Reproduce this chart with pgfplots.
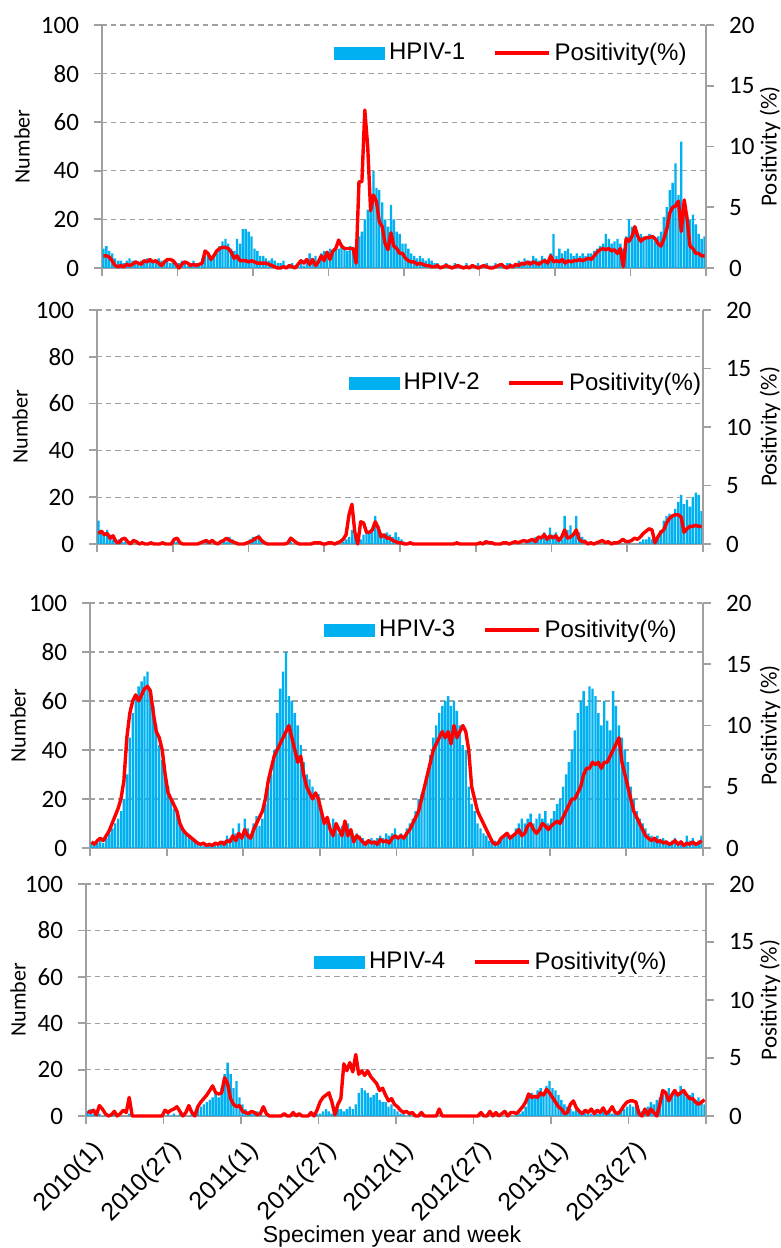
\documentclass[border=0pt]{standalone}
\usepackage{fontspec}
\setmainfont{Liberation Sans}
\newfontfamily\calibri{Carlito}
\usepackage{pgfplots}
\usepackage{pgfplotstable}
\pgfplotsset{compat=1.18}

\definecolor{hpivblue}{RGB}{0,176,240}
\definecolor{axisgray}{RGB}{160,160,160}
\definecolor{gridgray}{RGB}{160,160,160}

% weekly counts (b) and positivity in % (p), 2010 week 1 .. 2013 week 52
\pgfplotstableread[row sep=\\]{
v\\
8\\9\\7\\6\\4\\3\\3\\2\\3\\4\\3\\3\\2\\
3\\2\\4\\3\\2\\3\\4\\3\\2\\3\\2\\3\\2\\
2\\3\\2\\1\\2\\3\\2\\2\\4\\5\\6\\4\\5\\
6\\9\\11\\12\\10\\8\\7\\12\\10\\16\\16\\15\\13\\
8\\7\\5\\5\\4\\3\\4\\3\\2\\2\\3\\1\\1\\
2\\1\\1\\2\\1\\3\\6\\4\\5\\3\\6\\7\\5\\
8\\7\\9\\8\\9\\8\\7\\9\\8\\10\\13\\15\\20\\
24\\30\\40\\33\\32\\27\\20\\17\\26\\20\\15\\14\\10\\
10\\8\\6\\5\\4\\5\\4\\3\\4\\3\\2\\2\\1\\
1\\2\\1\\1\\2\\1\\1\\1\\2\\1\\1\\1\\2\\
1\\1\\2\\1\\1\\2\\1\\2\\1\\2\\2\\1\\2\\
3\\2\\4\\3\\3\\5\\4\\3\\5\\4\\3\\6\\14\\
5\\8\\6\\7\\8\\6\\5\\6\\5\\6\\5\\6\\6\\
7\\8\\9\\10\\14\\12\\10\\11\\12\\10\\8\\13\\20\\
17\\15\\12\\14\\13\\12\\14\\12\\11\\13\\15\\21\\25\\
32\\35\\43\\30\\52\\28\\22\\20\\22\\18\\14\\12\\13\\
}\bOne
\pgfplotstableread[row sep=\\]{
v\\
1.0\\1.0\\0.9\\0.6\\0.2\\0.1\\0.2\\0.1\\0.3\\0.2\\0.3\\0.5\\0.4\\
0.3\\0.6\\0.5\\0.7\\0.5\\0.6\\0.4\\0.2\\0.5\\0.7\\0.7\\0.6\\0.3\\
0.0\\0.3\\0.5\\0.4\\0.2\\0.3\\0.2\\0.3\\0.4\\1.4\\1.2\\0.7\\1.0\\
1.4\\1.6\\1.7\\1.7\\1.6\\1.3\\0.8\\1.0\\0.6\\0.6\\0.6\\0.5\\0.6\\
0.5\\0.4\\0.4\\0.4\\0.4\\0.3\\0.2\\0.1\\0.0\\0.0\\0.1\\0.0\\0.2\\
0.1\\0.0\\0.3\\0.6\\0.4\\0.7\\0.3\\0.7\\0.2\\0.5\\1.0\\0.6\\1.3\\
0.7\\1.4\\1.6\\2.3\\1.8\\1.6\\1.6\\1.6\\1.6\\0.4\\7.1\\7.1\\13.0\\
10.0\\4.7\\6.0\\5.5\\3.8\\3.4\\2.0\\1.5\\2.9\\1.8\\1.6\\1.2\\1.2\\
0.8\\0.6\\0.5\\0.5\\0.3\\0.4\\0.3\\0.2\\0.2\\0.1\\0.1\\0.2\\0.0\\
0.1\\0.2\\0.1\\0.0\\0.1\\0.2\\0.1\\0.0\\0.1\\0.0\\0.2\\0.1\\0.0\\
0.1\\0.2\\0.1\\0.0\\0.0\\0.1\\0.2\\0.3\\0.1\\0.0\\0.2\\0.1\\0.3\\
0.2\\0.4\\0.3\\0.5\\0.3\\0.5\\0.4\\0.3\\0.5\\0.6\\0.4\\1.0\\0.5\\
0.6\\0.5\\0.7\\0.4\\0.6\\0.5\\0.6\\0.6\\0.7\\0.6\\0.7\\0.8\\0.7\\
1.0\\1.3\\1.5\\1.6\\1.5\\1.6\\1.4\\1.5\\1.2\\1.6\\0.1\\2.4\\2.2\\
2.6\\3.4\\2.6\\2.2\\2.4\\2.5\\2.5\\2.6\\2.4\\2.0\\1.8\\2.4\\3.2\\
4.5\\5.0\\5.1\\5.5\\3.0\\5.6\\4.0\\1.8\\1.6\\1.2\\1.2\\1.0\\1.0\\
}\pOne
\pgfplotstableread[row sep=\\]{
v\\
10\\6\\5\\6\\4\\2\\1\\2\\1\\1\\0\\1\\0\\
0\\0\\1\\0\\0\\0\\0\\0\\0\\0\\0\\0\\0\\
1\\1\\0\\0\\0\\0\\0\\0\\0\\0\\0\\1\\0\\
0\\1\\0\\0\\1\\1\\3\\2\\1\\0\\0\\0\\1\\
2\\3\\2\\4\\2\\1\\0\\0\\0\\0\\0\\0\\0\\
0\\1\\0\\0\\0\\0\\0\\0\\0\\0\\0\\0\\0\\
0\\0\\0\\0\\0\\0\\1\\2\\3\\6\\4\\1\\2\\
4\\6\\5\\6\\12\\8\\5\\3\\5\\4\\3\\5\\3\\
2\\1\\0\\0\\0\\0\\0\\0\\0\\0\\0\\0\\0\\
0\\0\\0\\0\\0\\0\\0\\0\\0\\0\\0\\0\\0\\
0\\0\\0\\0\\0\\0\\0\\0\\0\\0\\0\\0\\0\\
0\\1\\0\\0\\1\\2\\2\\3\\2\\3\\5\\3\\7\\
4\\5\\3\\2\\12\\6\\8\\4\\12\\5\\3\\2\\1\\
1\\0\\0\\1\\0\\0\\1\\0\\0\\0\\0\\0\\0\\
1\\0\\0\\0\\1\\2\\2\\3\\2\\1\\3\\6\\10\\
12\\13\\12\\15\\18\\21\\17\\19\\16\\20\\22\\21\\14\\
}\bTwo
\pgfplotstableread[row sep=\\]{
v\\
0.9\\1.1\\0.8\\0.9\\0.5\\0.7\\0.2\\0.1\\0.4\\0.5\\0.2\\0.0\\0.3\\
0.2\\0.0\\0.1\\0.0\\0.0\\0.1\\0.0\\0.0\\0.0\\0.1\\0.0\\0.0\\0.0\\
0.4\\0.5\\0.1\\0.0\\0.0\\0.0\\0.0\\0.0\\0.0\\0.1\\0.2\\0.3\\0.1\\
0.3\\0.1\\0.0\\0.2\\0.3\\0.5\\0.3\\0.2\\0.1\\0.0\\0.0\\0.0\\0.1\\
0.2\\0.3\\0.5\\0.6\\0.3\\0.1\\0.0\\0.0\\0.0\\0.0\\0.0\\0.0\\0.0\\
0.1\\0.5\\0.3\\0.1\\0.0\\0.0\\0.0\\0.0\\0.0\\0.1\\0.1\\0.1\\0.0\\
0.0\\0.1\\0.1\\0.0\\0.1\\0.2\\0.4\\0.8\\2.5\\3.4\\1.0\\0.0\\1.9\\
1.8\\1.0\\1.0\\1.2\\1.9\\1.4\\0.6\\0.8\\0.5\\0.5\\0.3\\0.2\\0.1\\
0.1\\0.0\\0.0\\0.1\\0.0\\0.0\\0.0\\0.0\\0.0\\0.0\\0.0\\0.0\\0.0\\
0.0\\0.0\\0.0\\0.0\\0.0\\0.0\\0.1\\0.0\\0.0\\0.0\\0.0\\0.0\\0.0\\
0.0\\0.1\\0.0\\0.2\\0.1\\0.1\\0.0\\0.0\\0.0\\0.1\\0.1\\0.0\\0.1\\
0.2\\0.1\\0.2\\0.3\\0.2\\0.3\\0.4\\0.2\\0.6\\0.5\\0.8\\0.4\\0.7\\
0.5\\0.7\\0.3\\0.6\\1.2\\0.5\\0.6\\0.8\\1.2\\0.4\\0.2\\0.2\\0.0\\
0.1\\0.0\\0.1\\0.2\\0.3\\0.1\\0.2\\0.0\\0.1\\0.1\\0.2\\0.4\\0.2\\
0.2\\0.3\\0.5\\0.4\\0.6\\0.9\\1.1\\1.3\\1.2\\0.1\\0.6\\1.0\\1.2\\
1.8\\2.2\\2.4\\2.5\\2.5\\2.3\\1.0\\1.3\\1.5\\1.5\\1.6\\1.5\\1.5\\
}\pTwo
\pgfplotstableread[row sep=\\]{
v\\
2\\1\\2\\3\\2\\4\\6\\8\\10\\12\\15\\20\\30\\
45\\55\\62\\66\\68\\70\\72\\65\\58\\50\\42\\36\\30\\
25\\20\\16\\14\\10\\8\\6\\5\\4\\3\\2\\2\\1\\
1\\2\\1\\2\\1\\2\\3\\5\\4\\8\\6\\10\\5\\
12\\8\\6\\10\\13\\9\\12\\18\\25\\30\\40\\55\\65\\
72\\80\\62\\60\\55\\50\\42\\35\\30\\28\\25\\20\\22\\
15\\12\\10\\8\\12\\10\\6\\9\\8\\10\\5\\4\\6\\
5\\4\\3\\3\\4\\3\\4\\5\\4\\6\\5\\6\\8\\
5\\6\\4\\8\\10\\12\\15\\20\\22\\25\\30\\38\\45\\
50\\55\\58\\60\\62\\58\\60\\56\\50\\42\\40\\25\\18\\
15\\10\\8\\6\\5\\3\\2\\3\\2\\4\\5\\6\\4\\
5\\8\\10\\12\\10\\12\\14\\10\\12\\14\\12\\15\\10\\
12\\15\\18\\20\\25\\30\\35\\40\\48\\55\\60\\64\\58\\
66\\65\\62\\55\\50\\60\\52\\48\\64\\58\\50\\45\\40\\
35\\25\\20\\15\\12\\10\\8\\6\\5\\4\\5\\3\\4\\
3\\2\\3\\4\\2\\3\\2\\5\\3\\4\\2\\3\\5\\
}\bThree
\pgfplotstableread[row sep=\\]{
v\\
0.5\\0.3\\0.6\\0.8\\0.6\\1.0\\1.4\\2.0\\2.6\\3.2\\4.0\\5.5\\9.0\\
11.0\\12.0\\12.5\\12.0\\12.5\\13.0\\13.2\\12.8\\11.0\\9.5\\9.0\\8.0\\6.0\\
4.5\\4.0\\3.5\\3.0\\2.0\\1.5\\1.2\\1.0\\0.8\\0.6\\0.4\\0.3\\0.4\\
0.2\\0.3\\0.2\\0.4\\0.3\\0.5\\0.3\\0.6\\0.5\\1.0\\0.6\\1.2\\0.8\\
1.5\\1.0\\0.8\\1.5\\2.0\\2.5\\3.0\\4.0\\5.5\\6.5\\7.5\\8.0\\8.5\\
9.0\\9.5\\10.0\\9.0\\8.0\\7.0\\7.5\\6.0\\5.0\\4.5\\4.0\\4.5\\4.0\\
3.0\\2.0\\2.5\\1.5\\1.0\\2.0\\1.5\\1.0\\2.2\\1.0\\1.5\\0.5\\1.0\\
0.8\\0.5\\0.3\\0.6\\0.4\\0.5\\0.3\\0.7\\0.5\\0.6\\0.4\\0.8\\1.0\\
0.8\\1.0\\0.8\\1.2\\1.5\\2.0\\2.5\\3.0\\4.0\\5.0\\6.0\\7.0\\8.0\\
8.5\\9.0\\9.5\\9.0\\9.5\\8.5\\10.0\\9.0\\9.5\\10.0\\9.5\\8.0\\5.0\\
4.0\\3.0\\2.5\\2.0\\1.5\\1.0\\0.5\\0.3\\0.4\\0.8\\1.0\\1.2\\0.8\\
1.0\\1.2\\1.5\\1.0\\1.2\\1.8\\2.0\\1.5\\1.2\\1.5\\2.0\\1.8\\1.5\\
1.8\\2.0\\2.2\\2.0\\2.5\\3.0\\3.5\\4.0\\4.0\\4.5\\5.0\\6.0\\6.5\\
6.5\\7.0\\6.8\\7.0\\6.5\\7.0\\7.0\\7.5\\8.0\\8.5\\9.0\\7.0\\6.0\\
5.0\\4.0\\3.0\\2.5\\2.0\\1.5\\1.0\\0.8\\0.6\\0.8\\0.5\\0.6\\0.4\\
0.5\\0.3\\0.4\\0.6\\0.3\\0.5\\0.2\\0.4\\0.3\\0.5\\0.3\\0.4\\0.6\\
}\pThree
\pgfplotstableread[row sep=\\]{
v\\
2\\3\\1\\2\\1\\0\\1\\0\\0\\1\\0\\0\\0\\
0\\1\\0\\0\\0\\0\\0\\0\\0\\0\\0\\0\\0\\
0\\1\\0\\1\\0\\1\\1\\0\\0\\1\\2\\3\\4\\
5\\6\\7\\8\\10\\8\\12\\18\\23\\18\\12\\15\\8\\
5\\3\\2\\1\\1\\2\\1\\0\\0\\0\\0\\0\\0\\
0\\0\\0\\0\\0\\0\\0\\0\\0\\0\\0\\0\\1\\
1\\2\\3\\2\\1\\2\\3\\3\\2\\3\\4\\3\\5\\
10\\12\\11\\10\\8\\9\\10\\7\\6\\6\\4\\5\\3\\
2\\1\\1\\0\\1\\0\\0\\0\\0\\0\\0\\0\\0\\
0\\0\\0\\0\\0\\0\\0\\0\\0\\0\\0\\0\\0\\
0\\0\\0\\0\\0\\0\\0\\0\\0\\0\\0\\1\\0\\
0\\1\\1\\2\\4\\8\\10\\9\\11\\12\\10\\13\\15\\
12\\11\\9\\7\\5\\4\\3\\2\\3\\2\\1\\2\\1\\
1\\2\\1\\1\\2\\1\\2\\1\\1\\2\\2\\3\\4\\
5\\4\\6\\3\\2\\3\\4\\6\\5\\7\\8\\9\\10\\
12\\9\\11\\10\\13\\11\\8\\9\\10\\7\\8\\6\\5\\
}\bFour
\pgfplotstableread[row sep=\\]{
v\\
0.4\\0.3\\0.5\\0.1\\0.9\\0.6\\0.2\\0.0\\0.1\\0.4\\0.0\\0.2\\0.5\\
0.3\\1.6\\0.0\\0.0\\0.0\\0.0\\0.0\\0.0\\0.0\\0.0\\0.0\\0.0\\0.0\\
0.5\\0.3\\0.5\\0.6\\0.8\\0.4\\0.0\\0.3\\0.9\\0.3\\0.0\\0.8\\1.2\\
1.5\\1.8\\2.2\\2.6\\2.0\\1.9\\2.0\\3.3\\2.8\\1.5\\1.0\\0.8\\0.9\\
0.4\\0.3\\0.2\\0.4\\0.3\\0.1\\0.2\\0.8\\0.2\\0.0\\0.0\\0.0\\0.0\\
0.0\\0.2\\0.0\\0.0\\0.3\\0.0\\0.2\\0.0\\0.0\\0.0\\0.3\\0.0\\0.5\\
1.2\\1.6\\1.8\\2.0\\1.2\\0.1\\1.0\\1.5\\4.5\\3.9\\4.6\\3.8\\5.3\\
3.6\\3.9\\3.5\\3.9\\3.4\\3.1\\2.8\\2.2\\2.4\\1.8\\1.3\\1.5\\1.0\\
0.8\\0.5\\0.3\\0.4\\0.2\\0.3\\0.0\\0.0\\0.3\\0.0\\0.0\\0.0\\0.0\\
0.0\\0.6\\0.0\\0.0\\0.0\\0.0\\0.0\\0.0\\0.0\\0.0\\0.0\\0.0\\0.0\\
0.0\\0.0\\0.3\\0.0\\0.0\\0.4\\0.0\\0.3\\0.0\\0.2\\0.4\\0.0\\0.3\\
0.3\\0.2\\0.5\\0.8\\1.2\\1.9\\1.6\\1.7\\1.6\\2.0\\1.8\\2.3\\2.0\\
1.6\\1.2\\0.8\\0.6\\0.2\\0.3\\1.0\\1.3\\0.7\\0.4\\0.2\\0.5\\0.3\\
0.6\\0.2\\0.5\\0.3\\0.7\\0.2\\0.4\\0.8\\0.3\\0.2\\0.5\\0.9\\1.2\\
1.3\\1.3\\1.2\\0.2\\0.0\\0.6\\0.1\\0.6\\0.3\\0.0\\1.0\\2.2\\2.0\\
1.3\\1.8\\2.2\\1.8\\2.0\\2.2\\1.8\\1.5\\1.5\\1.2\\1.0\\1.2\\1.4\\
}\pFour

\pgfplotsset{
  panel/.style={scale only axis, anchor=south west, xmin=0.5, xmax=208.5,
    /pgf/number format/assume math mode=true,
    tick align=outside, major tick length=4pt,
    axis line style={axisgray, line width=0.9pt},
    tick style={axisgray, line width=0.9pt},
  },
  numax/.style={panel, ymin=0, ymax=100, ytick={0,20,40,60,80,100},
    axis lines*=left,
    xtick={0.5,26.5,52.5,78.5,104.5,130.5,156.5,182.5,208.5},
    xticklabels={},
    ymajorgrids,
    grid style={gridgray, line width=0.6pt, dash pattern=on 2.6pt off 2pt},
    yticklabel style={font=\calibri\fontsize{12.5}{13}\selectfont, xshift=-4pt},
    ylabel={Number},
    % the label is rotated, so yshift moves it sideways
    ylabel style={font=\calibri\fontsize{11}{12}\selectfont,
      at={(axis description cs:0,0.5)}, anchor=center},
  },
  posax/.style={panel, ymin=0, ymax=20, ytick={0,5,10,15,20},
    axis y line*=right, axis x line=none, clip=false,
    yticklabel style={font=\calibri\fontsize{12.5}{13}\selectfont, xshift=4pt},
    ylabel={Positivity (\%)},
    ylabel style={font=\calibri\fontsize{11.5}{12}\selectfont,
      at={(axis description cs:1,0.5)}, anchor=center},
    legend columns=2,
    legend style={draw=none, fill=none, anchor=west,
      font=\fontsize{12}{13}\selectfont,
      /tikz/every even column/.append style={column sep=12pt}},
  },
  barplot/.style={ybar, bar width=0.8, fill=hpivblue, draw=none},
  posline/.style={red, line width=1.7pt, line join=round,
    legend image code/.code={\draw[red, line width=1.7pt] (0pt,0pt) -- (27pt,0pt);}},
  barlegend/.style={legend image code/.code={\fill[hpivblue] (0pt,-3pt) rectangle (25pt,3pt);}},
}

\begin{document}
\begin{tikzpicture}
\useasboundingbox (0,0) rectangle (390.5pt,624pt);

% HPIV-1
\begin{axis}[numax, at={(51pt,490pt)}, width=302pt, height=121.5pt,
    ylabel style={yshift=40pt}]
  \addplot[barplot] table[x expr=\coordindex+1, y=v] {\bOne};
\end{axis}
\begin{axis}[posax, at={(51pt,490pt)}, width=302pt, height=121.5pt,
    ylabel style={yshift=-32pt},
    legend style={at={(axis description cs:0.374,0.885)}}]
  \addlegendimage{barlegend}
  \addlegendentry{HPIV-1}
  \addplot[posline] table[x expr=\coordindex+1, y=v] {\pOne};
  \addlegendentry{Positivity(\%)}
\end{axis}

% HPIV-2
\begin{axis}[numax, at={(48.5pt,352pt)}, width=303pt, height=117pt,
    ylabel style={yshift=38.5pt}]
  \addplot[barplot] table[x expr=\coordindex+1, y=v] {\bTwo};
\end{axis}
\begin{axis}[posax, at={(48.5pt,352pt)}, width=303pt, height=117pt,
    ylabel style={yshift=-33.5pt},
    legend style={at={(axis description cs:0.405,0.688)}}]
  \addlegendimage{barlegend}
  \addlegendentry{HPIV-2}
  \addplot[posline] table[x expr=\coordindex+1, y=v] {\pTwo};
  \addlegendentry{Positivity(\%)}
\end{axis}

% HPIV-3
\begin{axis}[numax, at={(45pt,200pt)}, width=306.5pt, height=122.5pt,
    ylabel style={yshift=36pt}]
  \addplot[barplot] table[x expr=\coordindex+1, y=v] {\bThree};
\end{axis}
\begin{axis}[posax, at={(45pt,200pt)}, width=306.5pt, height=122.5pt,
    ylabel style={yshift=-33.5pt},
    legend style={at={(axis description cs:0.372,0.890)}}]
  \addlegendimage{barlegend}
  \addlegendentry{HPIV-3}
  \addplot[posline] table[x expr=\coordindex+1, y=v] {\pThree};
  \addlegendentry{Positivity(\%)}
\end{axis}

% HPIV-4
\begin{axis}[numax, at={(43pt,66pt)}, width=310pt, height=116pt,
    ylabel style={yshift=34pt},
    xticklabels={2010(1),2010(27),2011(1),2011(27),2012(1),2012(27),2013(1),2013(27),{}},
    xticklabel shift=3pt,
    xticklabel style={rotate=45, anchor=north east, inner sep=1pt, yshift=-4pt,
      font=\fontsize{12.5}{13}\selectfont},
    xlabel={Specimen year and week},
    xlabel style={at={(axis description cs:0.5,0)}, anchor=center,
      yshift=-60.5pt, xshift=-2pt, font=\fontsize{11.5}{12}\selectfont}]
  \addplot[barplot] table[x expr=\coordindex+1, y=v] {\bFour};
\end{axis}
\begin{axis}[posax, at={(43pt,66pt)}, width=310pt, height=116pt,
    ylabel style={yshift=-32pt},
    legend style={at={(axis description cs:0.358,0.664)}}]
  \addlegendimage{barlegend}
  \addlegendentry{HPIV-4}
  \addplot[posline] table[x expr=\coordindex+1, y=v] {\pFour};
  \addlegendentry{Positivity(\%)}
\end{axis}
\end{tikzpicture}
\end{document}
